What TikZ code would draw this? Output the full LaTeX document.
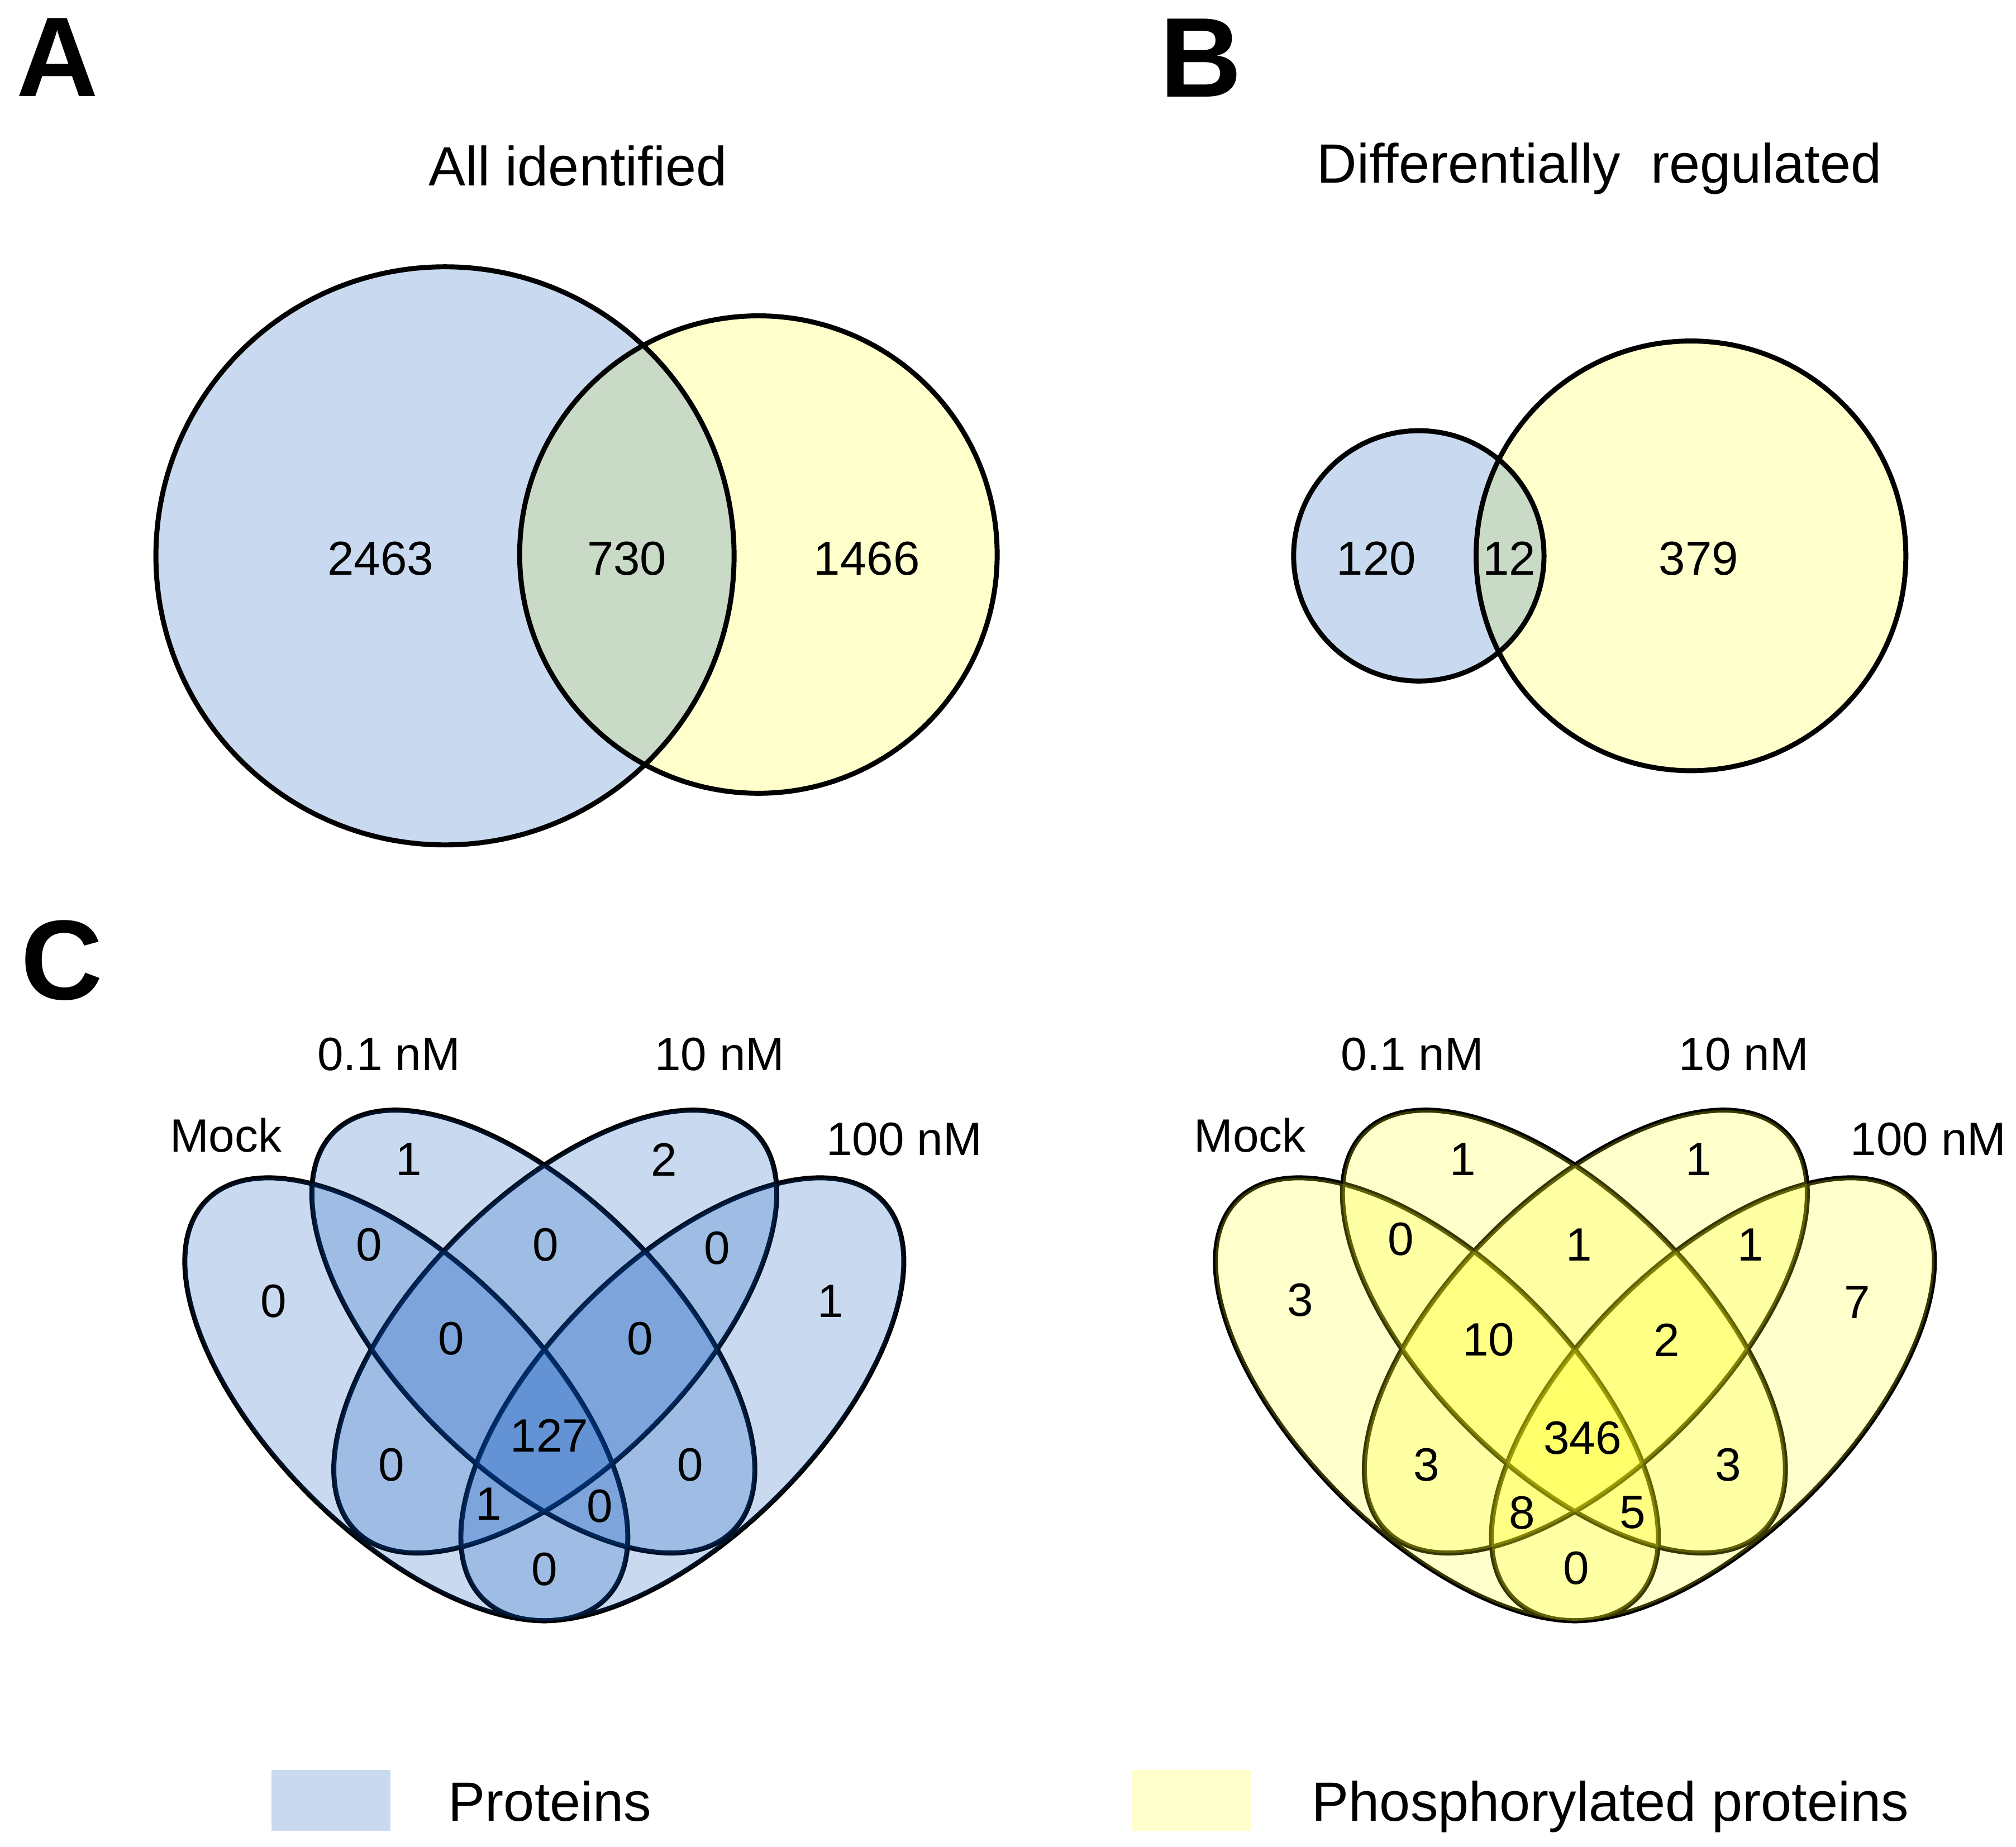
\documentclass[tikz,border=0pt]{standalone}
\usepackage{fontspec}
\setmainfont{Liberation Sans}
\usetikzlibrary{positioning}

\definecolor{protC}{RGB}{0,79,184}
\definecolor{phosC}{RGB}{255,255,12}

\begin{document}
\begin{tikzpicture}
  [x=0.01cm, y=-0.01cm,
   vLine/.style={draw=black, line width=1.1pt},
   protF/.style={fill=protC, fill opacity=0.21},
   phosF/.style={fill=phosC, fill opacity=0.21},
   panelN/.style={inner sep=0pt, anchor=base west, font=\fontsize{25}{30}\selectfont\bfseries},
   titleN/.style={inner sep=0pt, anchor=base, font=\fontsize{12.2}{14}\selectfont},
   numN/.style={inner sep=0pt, font=\fontsize{10.5}{12}\selectfont},
   catN/.style={inner sep=0pt, anchor=base, font=\fontsize{10.3}{12}\selectfont},
   regN/.style={inner sep=0pt, font=\fontsize{10.3}{12}\selectfont},
   legBox/.style={minimum width=0.923cm, minimum height=0.472cm, inner sep=0pt},
  ]
 \useasboundingbox (0,0) rectangle (1563,1432);

 % panel letters and titles
 \node[panelN] (lblA) at (12,74.5) {A};
 \node[panelN] (lblB) at (898.5,75) {B};
 \node[panelN] (lblC) at (15.5,775) {C};
 \node[titleN] (titleA) at (448,144) {All identified};
 \node[titleN] (titleB) at (1240,142) {Differentially\ \ regulated};

 % A: all identified
 \fill[phosF] (588,430) circle [radius=1.85cm];
 \fill[protF] (345,431) circle [radius=2.24cm];
 \draw[vLine] (345,431) circle [radius=2.24cm];
 \draw[vLine] (588,430) circle [radius=1.85cm];
 \node[numN] (nA1) at (295,433) {2463};
 \node[numN] (nA2) at (486,433) {730};
 \node[numN] (nA3) at (672,433) {1466};

 % B: differentially regulated
 \fill[phosF] (1311,431) circle [radius=1.665cm];
 \fill[protF] (1100,431) circle [radius=0.97cm];
 \draw[vLine] (1100,431) circle [radius=0.97cm];
 \draw[vLine] (1311,431) circle [radius=1.665cm];
 \node[numN] (nB1) at (1067,433) {120};
 \node[numN] (nB2) at (1170,433) {12};
 \node[numN] (nB3) at (1317,433) {379};

 % C: four-set diagrams, outlines first so the fills tint them
 \foreach \ox/\cf in {422/protF, 1221/phosF} {
   \foreach \dx/\dy/\ang in {-107/1085/-45, -8.5/1032.5/-45, 8.5/1032.5/45, 107/1085/45} {
     \pgfmathsetmacro\cx{\ox+\dx}
     \draw[vLine, rotate around={\ang:(\cx,\dy)}] (\cx,\dy) ellipse [x radius=2.185cm, y radius=1.055cm];
   }
   \foreach \dx/\dy/\ang in {-107/1085/-45, -8.5/1032.5/-45, 8.5/1032.5/45, 107/1085/45} {
     \pgfmathsetmacro\cx{\ox+\dx}
     \fill[\cf, rotate around={\ang:(\cx,\dy)}] (\cx,\dy) ellipse [x radius=2.185cm, y radius=1.055cm];
   }
 }

 \node[catN] (mockL) at (175,893) {Mock};
 \node[catN] (lowL) at (301.5,830) {0.1 nM};
 \node[catN] (midL) at (558,830) {10 nM};
 \node[catN] (highL) at (701,896) {100 nM};
 \node[catN] (mockR) at (969,893) {Mock};
 \node[catN] (lowR) at (1095,830) {0.1 nM};
 \node[catN] (midR) at (1352,830) {10 nM};
 \node[catN] (highR) at (1495,896) {100 nM};

 \foreach \px/\py/\num [count=\i] in {317/899/1, 515/899/2, 212/1009/0, 644/1009/1,
     286/965/0, 423/965/0, 556/968/0, 350/1038/0, 496/1038/0, 426/1113/127,
     303.5/1136/0, 535/1136/0, 379/1166/1, 465/1168/0, 422/1217/0}
   \node[regN] (cl\i) at (\px,\py) {\num};

 \foreach \px/\py/\num [count=\i] in {1134/899/1, 1317/899/1, 1008/1008/3, 1440/1010/7,
     1086/961/0, 1224/965/1, 1357/965/1, 1154/1039/10, 1292/1039/2, 1227/1115/346,
     1106/1136/3, 1340/1136/3, 1180/1173/8, 1266/1173/5, 1222/1216/0}
   \node[regN] (cr\i) at (\px,\py) {\num};

 % legend
 \node[legBox, protF] (legP) at (256.5,1396) {};
 \node[legBox, phosF] (legQ) at (923.5,1396) {};
 \node[titleN, anchor=base west] (legPt) at (347,1412) {Proteins};
 \node[titleN, anchor=base west] (legQt) at (1016.5,1412) {Phosphorylated proteins};
\end{tikzpicture}
\end{document}
